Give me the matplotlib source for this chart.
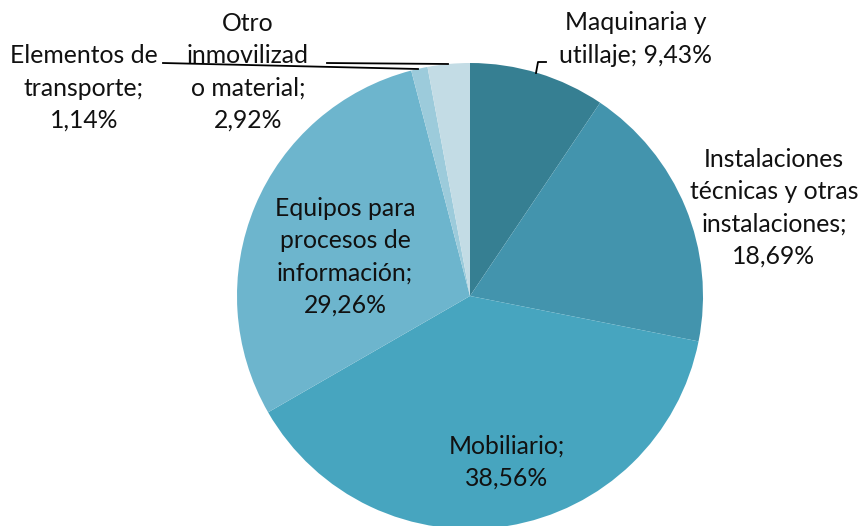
import matplotlib.pyplot as plt

# Data
categories = ['Maquinaria y\nutillaje', 'Instalaciones\ntécnicas y otras\ninstalaciones',
              'Mobiliario', 'Equipos para\nprocesos de\ninformación',
              'Elementos de\ntransporte', 'Otro\ninmovilizad\no material']
values = [9.43, 18.69, 38.56, 29.26, 1.14, 2.92]
colors = ['#367f92', '#4394ad', '#47a5bf', '#6db5cd', '#9ccbdb', '#c3dce5']

W, H = 862, 526
fig = plt.figure(figsize=(W / 100, H / 100), dpi=100)
ax = fig.add_axes([0, 0, 1, 1])

cx, cy, r = 470, H - 296, 233
ax.pie(values, colors=colors, startangle=90, counterclock=False,
       center=(cx, cy), radius=r, frame=True,
       wedgeprops={'linewidth': 0})
ax.set_xlim(0, W)
ax.set_ylim(0, H)
ax.set_aspect('equal')
ax.axis('off')

def fmt(v):
    return f'{v:.2f}'.replace('.', ',') + '%'

# label positions (pixels from top-left)
label_pos = [(636, 39), (774, 208), (507, 462), (345, 257), (84, 88), (248, 72)]
label_text = [
    'Maquinaria y\nutillaje; ' + fmt(values[0]),
    'Instalaciones\ntécnicas y otras\ninstalaciones;\n' + fmt(values[1]),
    'Mobiliario;\n' + fmt(values[2]),
    'Equipos para\nprocesos de\ninformación;\n' + fmt(values[3]),
    'Elementos de\ntransporte;\n' + fmt(values[4]),
    'Otro\ninmovilizad\no material;\n' + fmt(values[5]),
]
for (x, y), t in zip(label_pos, label_text):
    ax.text(x, H - y, t, ha='center', va='center', fontsize=17.8,
            family='Lato', linespacing=1.48, color='#111111')

# leader lines
ax.plot([163, 418], [H - 63, H - 69], color='black', lw=1.3)
ax.plot([327, 448], [H - 63, H - 64], color='black', lw=1.3)
ax.plot([546, 538, 536], [H - 62, H - 62, H - 73], color='black', lw=1.3)

fig.savefig('out.png', dpi=100)
